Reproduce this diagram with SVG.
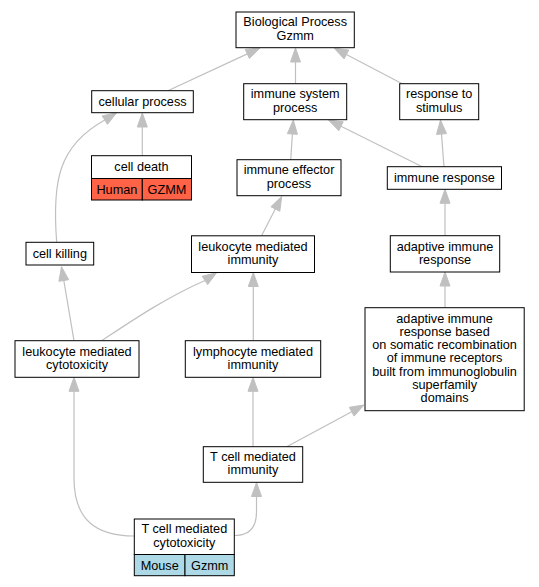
<svg xmlns="http://www.w3.org/2000/svg" width="539" height="587" viewBox="0 0 539 587">
<style>
.box{fill:#fff;stroke:#000;stroke-width:1}
.red{fill:#ff6347;stroke:#000;stroke-width:1}
.blue{fill:#add8e6;stroke:#000;stroke-width:1}
text{font-family:"Liberation Sans",Arial,sans-serif;font-size:12.7px;fill:#000;text-anchor:middle}
.e{fill:none;stroke:#c0c0c0;stroke-width:1.2}
.a{fill:#c0c0c0;stroke:#c0c0c0;stroke-width:1}
</style>
<rect width="539" height="587" fill="#fff"/>
<g id="connectors">
<path class="e" d="M167.3,91 L247.3,53.9"/><polygon class="a" points="260,48 249.4,58.4 245.2,49.4"/>
<path class="e" d="M295.5,84 L295.5,62"/><polygon class="a" points="295.5,48 290.5,62 300.5,62"/>
<path class="e" d="M402.7,84 L346.4,54.5"/><polygon class="a" points="334,48 348.7,50.1 344.1,58.9"/>
<path class="e" d="M142.3,156 L142.3,127"/><polygon class="a" points="142.3,113 137.3,127 147.3,127"/>
<path class="e" d="M56.7,242.3 C52,182 58,146 104.8,120.1"/><polygon class="a" points="116.7,112.7 107.5,124.3 102.2,115.9"/>
<path class="e" d="M290.7,160 L292.4,134"/><polygon class="a" points="293.3,120 297.4,134.3 287.4,133.7"/>
<path class="e" d="M422.7,167 L341,126.2"/><polygon class="a" points="328.5,120 343.2,121.8 338.8,130.7"/>
<path class="e" d="M444,167 L441.5,134"/><polygon class="a" points="440.5,120 446.5,133.6 436.5,134.4"/>
<path class="e" d="M261.7,235.5 L275.3,209"/><polygon class="a" points="281.7,196.5 279.8,211.3 270.9,206.7"/>
<path class="e" d="M445,235.7 L445,203.3"/><polygon class="a" points="445,189.3 440,203.3 450,203.3"/>
<path class="e" d="M74,340.7 L63.8,280.5"/><polygon class="a" points="61.5,266.7 68.7,279.7 58.9,281.3"/>
<path class="e" d="M101.7,340.7 C130,322 165,298 205,280.5"/><polygon class="a" points="216.6,272.7 207.7,284.6 202.2,276.3"/>
<path class="e" d="M253.3,340.7 L253.3,286.5"/><polygon class="a" points="253.3,272.5 248.3,286.5 258.3,286.5"/>
<path class="e" d="M445,307.7 L445,286"/><polygon class="a" points="445,272 440,286 450,286"/>
<path class="e" d="M253,446.7 L253,391.3"/><polygon class="a" points="253,377.3 248,391.3 258,391.3"/>
<path class="e" d="M286.7,446.7 L351.7,411.7"/><polygon class="a" points="364,405 354.1,416.1 349.3,407.3"/>
<path class="e" d="M134.3,536 C96,536 74,520 74,478 L74,391.3"/><polygon class="a" points="74,377.3 69,391.3 79,391.3"/>
<path class="e" d="M234.3,535.5 C249,535.5 256.5,528 256.5,512 L256.5,496.5"/><polygon class="a" points="256.5,482.5 251.5,496.5 261.5,496.5"/>
</g>
<g id="n_bp"><rect class="box" x="236" y="12" width="118.3" height="35.7"/><text x="295.2" y="26.4">Biological Process</text><text x="295.2" y="39.6">Gzmm</text></g>
<g id="n_cellular"><rect class="box" x="91.7" y="90.7" width="101.6" height="22"/><text x="142.5" y="105.9">cellular process</text></g>
<g id="n_isp"><rect class="box" x="243.7" y="83.7" width="103" height="36"/><text x="295.2" y="98.3">immune system</text><text x="295.2" y="111.5">process</text></g>
<g id="n_rts"><rect class="box" x="399.7" y="83.7" width="79" height="36"/><text x="439.2" y="98.3">response to</text><text x="439.2" y="111.5">stimulus</text></g>
<g id="n_celldeath"><rect class="box" x="91.5" y="155.7" width="100" height="22.8"/><text x="141.5" y="171.3">cell death</text><rect class="red" x="91.5" y="178.5" width="50.8" height="21.5"/><rect class="red" x="142.3" y="178.5" width="49.2" height="21.5"/><text x="116.9" y="193.5">Human</text><text x="166.9" y="193.5">GZMM</text></g>
<g id="n_iep"><rect class="box" x="237" y="159.7" width="104" height="36"/><text x="289" y="174.3">immune effector</text><text x="289" y="187.5">process</text></g>
<g id="n_ir"><rect class="box" x="387.3" y="166.7" width="114.2" height="22.6"/><text x="444.4" y="182.2">immune response</text></g>
<g id="n_killing"><rect class="box" x="26" y="242.3" width="67.7" height="22.7"/><text x="59.8" y="257.8">cell killing</text></g>
<g id="n_lmi"><rect class="box" x="191.5" y="235.8" width="123" height="36.7"/><text x="253" y="250.8">leukocyte mediated</text><text x="253" y="264">immunity</text></g>
<g id="n_air"><rect class="box" x="390.3" y="235.7" width="109.4" height="36.3"/><text x="445" y="250.5">adaptive immune</text><text x="445" y="263.7">response</text></g>
<g id="n_lmc"><rect class="box" x="15" y="340.7" width="124" height="36.6"/><text x="77" y="355.6">leukocyte mediated</text><text x="77" y="368.8">cytotoxicity</text></g>
<g id="n_lymph"><rect class="box" x="185.3" y="340.7" width="135.4" height="36.6"/><text x="253" y="355.6">lymphocyte mediated</text><text x="253" y="368.8">immunity</text></g>
<g id="n_big"><rect class="box" x="365" y="307.7" width="159.2" height="103"/><text x="444.6" y="322.8">adaptive immune</text><text x="444.6" y="336">response based</text><text x="444.6" y="349.2">on somatic recombination</text><text x="444.6" y="362.4">of immune receptors</text><text x="444.6" y="375.6">built from immunoglobulin</text><text x="444.6" y="388.8">superfamily</text><text x="444.6" y="402">domains</text></g>
<g id="n_tcmi"><rect class="box" x="203.3" y="446.7" width="99.4" height="35.6"/><text x="253" y="461.1">T cell mediated</text><text x="253" y="474.3">immunity</text></g>
<g id="n_tcmc"><rect class="box" x="134.3" y="519" width="100" height="35.5"/><text x="184.3" y="533.4">T cell mediated</text><text x="184.3" y="546.6">cytotoxicity</text><rect class="blue" x="134.3" y="554.5" width="50.7" height="21.2"/><rect class="blue" x="185" y="554.5" width="49.3" height="21.2"/><text x="159.7" y="569.5">Mouse</text><text x="209.7" y="569.5">Gzmm</text></g>
</svg>
